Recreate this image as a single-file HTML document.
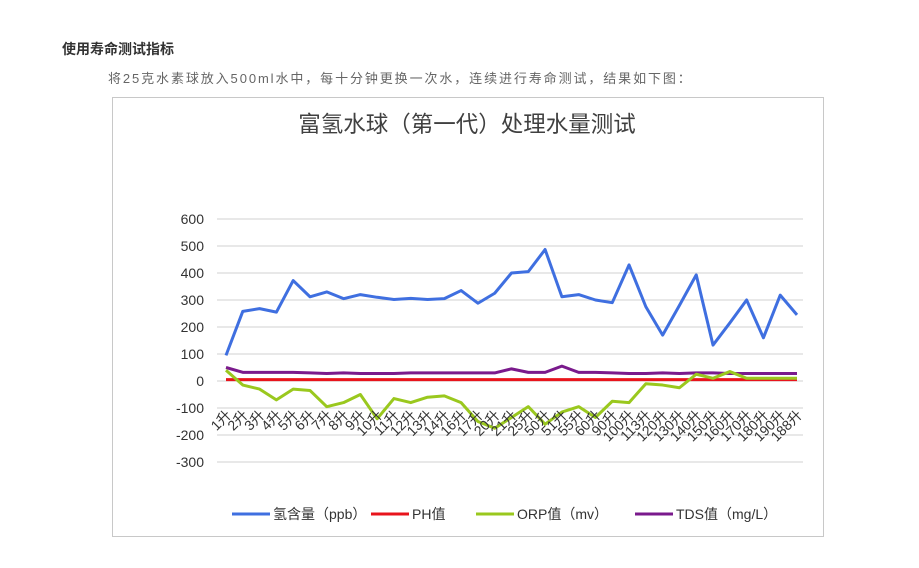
<!DOCTYPE html>
<html><head><meta charset="utf-8"><style>
body{margin:0;width:919px;height:568px;background:#fff;font-family:"Liberation Sans","Noto Sans CJK SC",sans-serif;position:relative;overflow:hidden}
.h{position:absolute;left:62px;top:39px;font-size:14px;font-weight:bold;color:#333}
.s{position:absolute;left:108px;top:68px;font-size:13px;color:#666;letter-spacing:1.9px}
.box{position:absolute;left:112px;top:97px;width:710px;height:438px;border:1px solid #c8c8c8}
</style></head><body>
<div class="h">使用寿命测试指标</div>
<div class="s">将25克水素球放入500ml水中，每十分钟更换一次水，连续进行寿命测试，结果如下图：</div>
<div class="box"></div>
<svg id="c" width="919" height="568" style="position:absolute;left:0;top:0"></svg>
<script>
const categories=["1升","2升","3升","4升","5升","6升","7升","8升","9升","10升","11升","12升","13升","14升","16升","17升","20升","21升","25升","50升","51升","55升","60升","90升","100升","113升","120升","130升","140升","150升","160升","170升","180升","190升","188升"];
const hydrogen=[95,258,268,255,372,312,330,305,320,310,302,306,302,305,335,288,325,400,405,487,312,320,300,290,430,275,170,280,393,133,215,300,160,318,245];
const ph=[5,5,5,5,5,5,5,5,5,5,5,5,5,5,5,5,5,5,5,5,5,5,5,5,5,5,5,5,5,5,5,5,5,5,5];
const orp=[40,-15,-30,-70,-30,-35,-95,-80,-50,-140,-65,-80,-60,-55,-80,-150,-175,-135,-95,-160,-115,-95,-135,-75,-80,-10,-15,-25,25,10,35,10,10,10,10];
const tds=[50,32,32,32,32,30,28,30,28,28,28,30,30,30,30,30,30,45,32,32,55,32,32,30,28,28,30,28,30,30,28,28,28,28,28];
const yTicks=[600,500,400,300,200,100,0,-100,-200,-300];
const seriesNames=["氢含量（ppb）","PH值","ORP值（mv）","TDS值（mg/L）"];
const colors=["#3f6fe0","#e8141c","#9ac81e","#7a1a8c"];
const svg=document.getElementById('c');const NS='http://www.w3.org/2000/svg';
const x0=226,x1=797,yZero=381,pxPer=0.27;
const X=i=>x0+(x1-x0)*i/(categories.length-1);
const Y=v=>yZero-v*pxPer;
function mk(t,a){const e=document.createElementNS(NS,t);for(const k in a)e.setAttribute(k,a[k]);svg.appendChild(e);return e;}
const title=mk('text',{x:467,y:132,'text-anchor':'middle','font-size':22.5,fill:'#404040'});


title.textContent='富氢水球（第一代）处理水量测试';
yTicks.forEach(v=>{
 const g=mk('line',{x1:217,x2:803,y1:Y(v),y2:Y(v),stroke:'#d0d0d0','stroke-width':1});
 
 
 const t=mk('text',{x:204,y:Y(v)+5,'text-anchor':'end','font-size':14,fill:'#333'});
 
 
 t.textContent=v;
});
const series=[hydrogen,ph,orp,tds];
[1,3,2,0].forEach(s=>{
 const p=mk('polyline',{points:series[s].map((v,i)=>X(i)+','+Y(v)).join(' '),fill:'none',stroke:colors[s],'stroke-width':3,'stroke-linejoin':'round'});
 
 
});
categories.forEach((c,i)=>{
 const t=mk('text',{x:X(i)+6,y:Y(-100)+8,'text-anchor':'end','font-size':14,fill:'#333',transform:`rotate(-45 ${X(i)+6} ${Y(-100)+8})`});
 
 
 t.textContent=c;
});
const lx=[232,371,476,635];
seriesNames.forEach((n,s)=>{
 const l=mk('line',{x1:lx[s],x2:lx[s]+38,y1:514,y2:514,stroke:colors[s],'stroke-width':3});
 
 
 const t=mk('text',{x:lx[s]+41,y:519,'font-size':14,fill:'#333'});
 
 
 t.textContent=n;
});
</script>
</body></html>
